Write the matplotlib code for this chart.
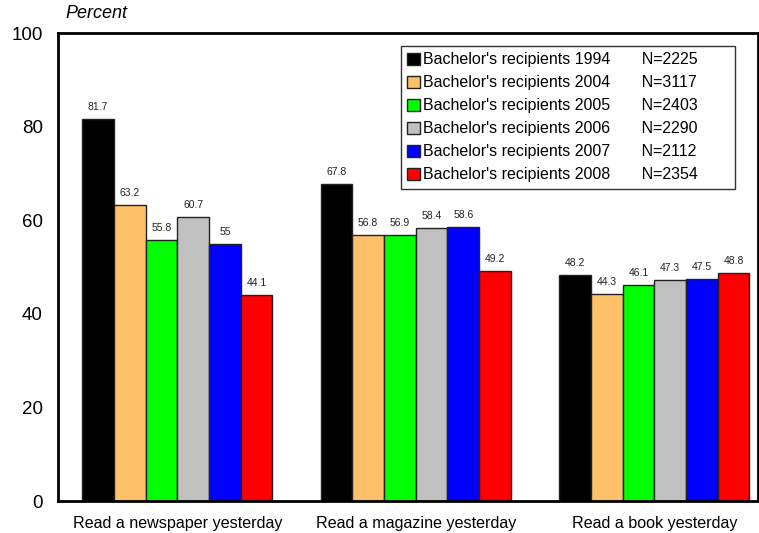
import matplotlib
matplotlib.use('Agg')
import matplotlib.pyplot as plt
import numpy as np

plt.rcParams['font.family'] = ['Liberation Sans', 'DejaVu Sans']

categories = ['Read a newspaper yesterday', 'Read a magazine yesterday', 'Read a book yesterday']
series_names = ["Bachelor's recipients 1994", "Bachelor's recipients 2004", "Bachelor's recipients 2005",
                "Bachelor's recipients 2006", "Bachelor's recipients 2007", "Bachelor's recipients 2008"]
series_n = ['N=2225', 'N=3117', 'N=2403', 'N=2290', 'N=2112', 'N=2354']
values = [
    [81.7, 67.8, 48.2],
    [63.2, 56.8, 44.3],
    [55.8, 56.9, 46.1],
    [60.7, 58.4, 47.3],
    [55, 58.6, 47.5],
    [44.1, 49.2, 48.8],
]
value_labels = [
    ['81.7', '67.8', '48.2'],
    ['63.2', '56.8', '44.3'],
    ['55.8', '56.9', '46.1'],
    ['60.7', '58.4', '47.3'],
    ['55', '58.6', '47.5'],
    ['44.1', '49.2', '48.8'],
]
colors = ['#000000', '#FFC06A', '#00FF00', '#C0C0C0', '#0000FF', '#FF0000']

fig = plt.figure(figsize=(7.59, 5.33), dpi=100)
ax = fig.add_axes([58 / 759, 1 - 501 / 533, 700 / 759, 468 / 533])

x = np.arange(len(categories))
width = 0.133
handles = []
for i, (vals, c) in enumerate(zip(values, colors)):
    pos = x + (i - 2.5) * width
    bars = ax.bar(pos, vals, width, color=c, edgecolor='#222222', linewidth=1.0)
    handles.append(bars)
    for p, v, lab in zip(pos, vals, value_labels[i]):
        ax.text(p, v + 1.5, lab, ha='center', va='bottom', fontsize=7.5, color='#222222')

ax.set_xlim(-0.5, 2.435)
ax.set_ylim(0, 100)
ax.set_yticks([0, 20, 40, 60, 80, 100])
ax.tick_params(axis='y', length=0, pad=11, labelsize=13.5)
ax.set_xticks(x)
ax.set_xticklabels(categories, fontsize=11.6)
ax.tick_params(axis='x', length=0, pad=11)
for s in ax.spines.values():
    s.set_linewidth(2)

fig.text(65 / 759, 1 - 13 / 533, 'Percent', fontsize=13, style='italic', va='center', ha='left')

labels = [f"{n}       {k}       " for n, k in zip(series_names, series_n)]
leg = ax.legend(handles, labels, loc='upper left', bbox_to_anchor=(343 / 700, 1 - 13 / 468),
                fontsize=11.5, handlelength=0.8, handleheight=0.8, handletextpad=0.15,
                labelspacing=0.5, borderpad=0.4, borderaxespad=0, frameon=True, fancybox=False)
leg.get_frame().set_edgecolor('black')
leg.get_frame().set_linewidth(1)

fig.savefig('out.png', dpi=100)
